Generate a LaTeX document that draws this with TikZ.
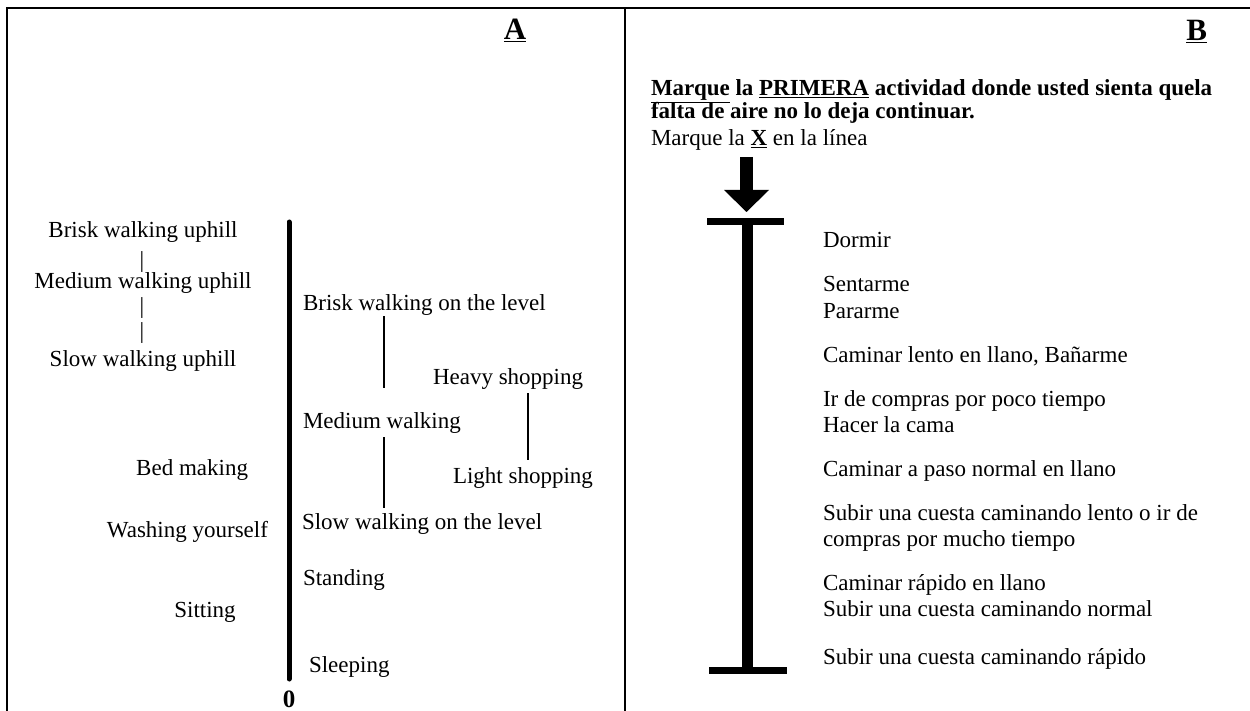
\documentclass[tikz,border=0pt]{standalone}
\usepackage{fontspec}
\setmainfont{Liberation Serif}
\begin{document}
\begin{tikzpicture}[x=1pt,y=-1pt,
  txt/.style={inner sep=0pt,outer sep=0pt,font=\fontsize{23}{26}\selectfont},
  lbl/.style={txt,anchor=base west},
  boldlbl/.style={inner sep=0pt,outer sep=0pt,anchor=base west,font=\fontsize{23}{23}\selectfont\bfseries},
  head/.style={inner sep=0pt,outer sep=0pt,font=\fontsize{31}{34}\selectfont\bfseries},
  frame/.style={line width=1.8pt},
  thin/.style={line width=1.4pt},
  scalebar/.style={line width=11pt},
  capbar/.style={line width=7pt}]
\useasboundingbox (0,0) rectangle (1250,711);
% frame
\coordinate (tl) at (7,8);
\coordinate (tr) at (1250,8);
\coordinate (bl) at (7,711);
\coordinate (mt) at (625,8);
\coordinate (mb) at (625,711);
\draw[frame] (bl) -- (tl) -- (tr);
\draw[frame] (mt) -- (mb);
% ---------- panel A ----------
\node[head,anchor=base] (A) at (515,40) {\underline{A}};
\coordinate (at) at (289,222);
\coordinate (ab) at (289,679);
\draw[line width=5pt,line cap=round] (at) -- (ab);
\node[head,anchor=base,font=\fontsize{25}{28}\selectfont\bfseries] (zero) at (289,707) {0};
% left column
\node[txt,anchor=base] (bwu) at (143,238) {Brisk walking uphill};
\node[txt,anchor=base] (bar1) at (142,268) {|};
\node[txt,anchor=base] (mwu) at (143,289) {Medium walking uphill};
\node[txt,anchor=base] (bar2) at (142,313) {|};
\node[txt,anchor=base] (bar3) at (142,338) {|};
\node[txt,anchor=base] (swu) at (143,366) {Slow walking uphill};
\node[txt,anchor=base east] (bed) at (248,475) {Bed making};
\node[txt,anchor=base east] (wash) at (268,537) {Washing yourself};
\node[txt,anchor=base] (sit) at (205,617) {Sitting};
% right column
\node[lbl] (bwl) at (303,311) {Brisk walking on the level};
\node[lbl] (hs) at (433,384) {Heavy shopping};
\node[lbl] (mw) at (303,428) {Medium walking};
\node[lbl] (ls) at (453,483) {Light shopping};
\node[lbl] (swl) at (302,529) {Slow walking on the level};
\node[lbl] (st) at (303,585) {Standing};
\node[lbl] (sl) at (309,672) {Sleeping};
\coordinate (c1a) at (384,316);
\coordinate (c1b) at (384,388);
\coordinate (c2a) at (528,393);
\coordinate (c2b) at (528,460);
\coordinate (c3a) at (384,437);
\coordinate (c3b) at (384,508);
\draw[thin] (c1a) -- (c1b);
\draw[thin] (c2a) -- (c2b);
\draw[thin] (c3a) -- (c3b);
% ---------- panel B ----------
\node[head,anchor=base east] (B) at (1207,41) {\underline{B}};
\node[boldlbl] (q1) at (651,96)
  {\underline{Marque} la \underline{PRIMERA} actividad donde usted sienta quela};
\node[boldlbl] (q2) at (651,119) {falta de aire no lo deja continuar.};
\node[lbl] (mx) at (651,146) {Marque la \textbf{\underline{X}} en la línea};
% arrow
\coordinate (ar1) at (746.5,157);
\coordinate (ar2) at (746.5,191);
\coordinate (tip) at (746.5,212);
\draw[line width=13pt] (ar1) -- (ar2);
\fill (724,190) -- (769,190) -- (tip) -- cycle;
% scale
\coordinate (sbt) at (747.5,221.5);
\coordinate (sbb) at (747.5,670);
\coordinate (ctl) at (707,221.5);
\coordinate (ctr) at (784,221.5);
\coordinate (cbl) at (709,670);
\coordinate (cbr) at (787,670);
\draw[scalebar] (sbt) -- (sbb);
\draw[capbar] (ctl) -- (ctr);
\draw[capbar] (cbl) -- (cbr);
% items
\node[lbl] (b1) at (823,248) {Dormir};
\node[lbl] (b2) at (823,292) {Sentarme};
\node[lbl] (b3) at (823,318) {Pararme};
\node[lbl] (b4) at (823,362) {Caminar lento en llano, Bañarme};
\node[lbl] (b5) at (823,406) {Ir de compras por poco tiempo};
\node[lbl] (b6) at (823,432) {Hacer la cama};
\node[lbl] (b7) at (823,476) {Caminar a paso normal en llano};
\node[lbl] (b8) at (823,520) {Subir una cuesta caminando lento o ir de};
\node[lbl] (b9) at (823,546) {compras por mucho tiempo};
\node[lbl] (b10) at (823,590) {Caminar rápido en llano};
\node[lbl] (b11) at (823,616) {Subir una cuesta caminando normal};
\node[lbl] (b12) at (823,664) {Subir una cuesta caminando rápido};
\end{tikzpicture}
\end{document}
